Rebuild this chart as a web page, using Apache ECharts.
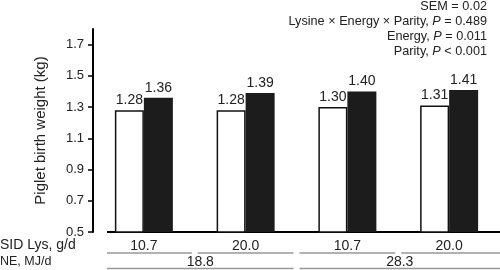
<!DOCTYPE html>
<html><head><meta charset="utf-8">
<script src="https://cdn.jsdelivr.net/npm/echarts@6/dist/echarts.min.js"></script>
<style>html,body{margin:0;padding:0;background:#fff}#c{width:500px;height:270px}</style>
</head><body><div id="c"></div>
<script>
const lysLevels = ['10.7', '20.0', '10.7', '20.0'];
const neLevels = ['18.8', '28.3'];
const whiteBars = [1.28, 1.28, 1.30, 1.31];
const blackBars = [1.36, 1.39, 1.40, 1.41];
const yTicks = [0.5, 0.7, 0.9, 1.1, 1.3, 1.5, 1.7];
const notes = [
  'SEM = 0.02',
  'Lysine \u00d7 Energy \u00d7 Parity, {i|P} = 0.489',
  'Energy, {i|P} = 0.011',
  'Parity, {i|P} < 0.001'
];
const FONT = '"Liberation Sans", Arial, Helvetica, sans-serif';
const TXT = '#222';

const chart = echarts.init(document.getElementById('c'), null, {renderer: 'canvas'});
chart.setOption({
  animation: false,
  backgroundColor: '#fff',
  textStyle: {fontFamily: FONT},
  grid: {left: 93, width: 412, top: 29, bottom: 38, containLabel: false},
  xAxis: {
    type: 'category', data: lysLevels,
    axisLine: {show: false}, axisTick: {show: false},
    axisLabel: {fontSize: 14, color: TXT, margin: 7, fontFamily: FONT}
  },
  yAxis: {
    type: 'value', min: 0.5, max: 1.8,
    axisLine: {show: true, lineStyle: {color: '#000', width: 2}},
    axisTick: {show: true, length: 5, customValues: yTicks, lineStyle: {color: '#000', width: 1.5}},
    axisLabel: {customValues: yTicks, formatter: v => v.toFixed(1), fontSize: 13, color: TXT, margin: 9, fontFamily: FONT},
    splitLine: {show: false},
    name: 'Piglet birth weight (kg)', nameLocation: 'middle', nameGap: 45,
    nameTextStyle: {fontSize: 15, color: TXT, fontFamily: FONT}
  },
  series: [
    {
      type: 'bar', data: whiteBars, barWidth: 29, barGap: '0%',
      itemStyle: {color: '#fff', borderColor: '#111', borderWidth: 1.5},
      label: {show: true, position: 'top', distance: 3, fontSize: 14, color: TXT, fontFamily: FONT,
        formatter: p => p.value.toFixed(2)}
    },
    {
      type: 'bar', data: blackBars, barWidth: 29, barGap: '0%',
      itemStyle: {color: '#1c1c1c'},
      label: {show: true, position: 'top', distance: 3, fontSize: 14, color: TXT, fontFamily: FONT,
        formatter: p => p.value.toFixed(2)}
    }
  ]
});

// decorations derived from the axes
const cx = lysLevels.map((_, i) => chart.convertToPixel({xAxisIndex: 0}, i));
const w = cx[1] - cx[0];
const yBase = chart.convertToPixel({yAxisIndex: 0}, 0.5);
const axisX = chart.convertToPixel({xAxisIndex: 0}, 0) - w / 2;
const lineStart = axisX + 14;
const lineEnd = 500;
const gap = 3;
const graphics = [];
graphics.push({type: 'line', shape: {x1: lineStart, y1: yBase, x2: lineEnd, y2: yBase},
  style: {stroke: '#000', lineWidth: 2}});
cx.forEach((c, i) => {
  const a = i === 0 ? lineStart : c - w / 2 + gap;
  const b = i === cx.length - 1 ? lineEnd : c + w / 2 - gap;
  graphics.push({type: 'line', shape: {x1: a, y1: yBase + 21, x2: b, y2: yBase + 21},
    style: {stroke: '#999', lineWidth: 1.5}});
});
neLevels.forEach((lab, j) => {
  const first = cx[j * 2], second = cx[j * 2 + 1];
  const a = j === 0 ? lineStart : first - w / 2 + gap;
  const b = j === neLevels.length - 1 ? lineEnd : second + w / 2 - gap;
  graphics.push({type: 'line', shape: {x1: a, y1: yBase + 36.5, x2: b, y2: yBase + 36.5},
    style: {stroke: '#999', lineWidth: 1.5}});
  graphics.push({type: 'text', x: (a + b) / 2, y: yBase + 30,
    style: {text: lab, fontSize: 14, fontFamily: FONT, fill: TXT, align: 'center', verticalAlign: 'middle'}});
});
graphics.push({type: 'text', x: 0, y: yBase + 13,
  style: {text: 'SID Lys, g/d', fontSize: 14, fontFamily: FONT, fill: TXT, align: 'left', verticalAlign: 'middle'}});
graphics.push({type: 'text', x: 0, y: yBase + 30,
  style: {text: 'NE, MJ/d', fontSize: 12.5, fontFamily: FONT, fill: TXT, align: 'left', verticalAlign: 'middle'}});
graphics.push({type: 'text', x: 487, y: -1,
  style: {text: notes.join('\n'), fontSize: 12.7, fontFamily: FONT, fill: TXT, align: 'right', verticalAlign: 'top',
    lineHeight: 15,
    rich: {i: {fontStyle: 'italic', fontSize: 12.7, fontFamily: FONT, fill: TXT, lineHeight: 15}}}});
chart.setOption({graphic: graphics});
</script></body></html>
